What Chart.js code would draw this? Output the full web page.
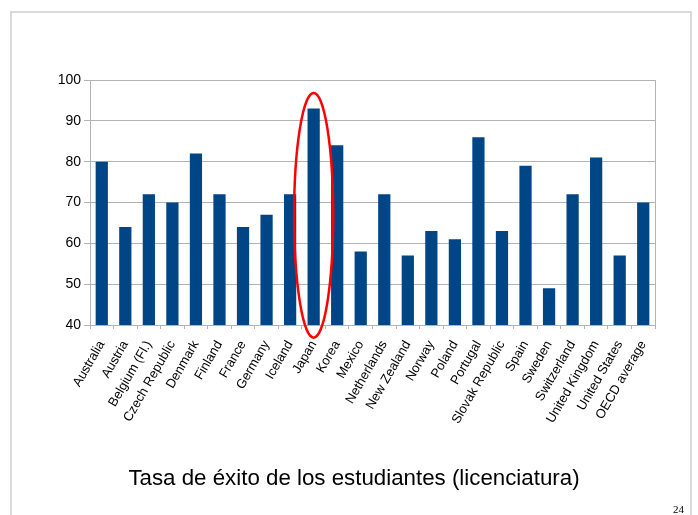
<!DOCTYPE html>
<html>
<head>
<meta charset="utf-8">
<script src="https://cdn.jsdelivr.net/npm/chart.js@4/dist/chart.umd.min.js"></script>
<style>
  html, body { margin: 0; padding: 0; background: #fff; }
  #wrap { position: relative; width: 698px; height: 515px; overflow: hidden; }
  #frame { position: absolute; left: 10px; top: 11px; width: 678px; height: 520px;
           border-left: 2px solid #dadada; border-top: 2px solid #dadada; border-right: 2px solid #dadada; }
  #title { position: absolute; left: 0; width: 708px; top: 464px; text-align: center;
           font-family: "Liberation Sans", Arial, sans-serif; font-size: 22.3px; line-height: 28px; color: #000; }
  #page { position: absolute; left: 673px; top: 503px; font-family: "Liberation Serif", serif; font-size: 11px; line-height: 12px; color: #000; }
  canvas { position: absolute; left: 0; top: 0; }
</style>
</head>
<body>
<div id="wrap">
  <div id="frame"></div>
  <canvas id="c" width="698" height="515"></canvas>
  <div id="title">Tasa de éxito de los estudiantes (licenciatura)</div>
  <div id="page">24</div>
</div>
<script>
const countries = ["Australia", "Austria", "Belgium (Fl.)", "Czech Republic", "Denmark", "Finland", "France", "Germany", "Iceland", "Japan", "Korea", "Mexico", "Netherlands", "New Zealand", "Norway", "Poland", "Portugal", "Slovak Republic", "Spain", "Sweden", "Switzerland", "United Kingdom", "United States", "OECD average"];
const successRate = [80, 64, 72, 70, 82, 72, 64, 67, 72, 93, 84, 58, 72, 57, 63, 61, 86, 63, 79, 49, 72, 81, 57, 70];
const yTicks = [40, 50, 60, 70, 80, 90, 100];
const highlighted = "Japan";
const highlightRange = [36.9, 96.8];

const GRID = "#b3b3b3";

const framePlugin = {
  id: "framePlugin",
  beforeDatasetsDraw(chart) {
    const { ctx, chartArea } = chart;
    ctx.save();
    ctx.strokeStyle = GRID;
    ctx.lineWidth = 1;
    ctx.beginPath();
    const x = Math.round(chartArea.right) + 0.5;
    ctx.moveTo(x, chartArea.top);
    ctx.lineTo(x, chartArea.bottom);
    ctx.stroke();
    ctx.restore();
  }
};

const ellipsePlugin = {
  id: "ellipsePlugin",
  afterDatasetsDraw(chart) {
    const { ctx } = chart;
    const xs = chart.scales.x, ys = chart.scales.y;
    const idx = countries.indexOf(highlighted);
    const cx = xs.getPixelForValue(idx);
    const step = xs.getPixelForValue(1) - xs.getPixelForValue(0);
    const yTop = ys.getPixelForValue(highlightRange[1]);
    const yBot = ys.getPixelForValue(highlightRange[0]);
    ctx.save();
    ctx.strokeStyle = "#ff0000";
    ctx.lineWidth = 2.5;
    ctx.beginPath();
    ctx.ellipse(cx, (yTop + yBot) / 2, step * 0.83, (yBot - yTop) / 2, 0, 0, Math.PI * 2);
    ctx.stroke();
    ctx.restore();
  }
};

new Chart(document.getElementById("c"), {
  type: "bar",
  data: {
    labels: countries,
    datasets: [{
      data: successRate,
      backgroundColor: "#004586",
      borderWidth: 0,
      categoryPercentage: 1,
      barPercentage: 0.52
    }]
  },
  options: {
    responsive: false,
    animation: false,
    devicePixelRatio: 1,
    layout: { padding: { top: 80, right: 43, left: 0, bottom: 0 } },
    plugins: { legend: { display: false }, tooltip: { enabled: false }, title: { display: false } },
    scales: {
      x: {
        grid: { offset: true, drawOnChartArea: false, drawTicks: true, tickLength: 4, color: GRID },
        border: { color: GRID },
        ticks: {
          autoSkip: false, minRotation: 60, maxRotation: 60, padding: 9,
          color: "#000",
          font: { family: "'Liberation Sans', Arial, sans-serif", size: 13 }
        },
        afterFit(s) { s.height = 190; }
      },
      y: {
        min: yTicks[0], max: yTicks[yTicks.length - 1],
        afterBuildTicks(s) { s.ticks = yTicks.map(v => ({ value: v })); },
        grid: { color: GRID, tickLength: 6 },
        border: { color: GRID },
        ticks: {
          padding: 3, color: "#000",
          font: { family: "'Liberation Sans', Arial, sans-serif", size: 14 }
        },
        afterFit(s) { s.width = 90; }
      }
    }
  },
  plugins: [framePlugin, ellipsePlugin]
});
</script>
</body>
</html>
